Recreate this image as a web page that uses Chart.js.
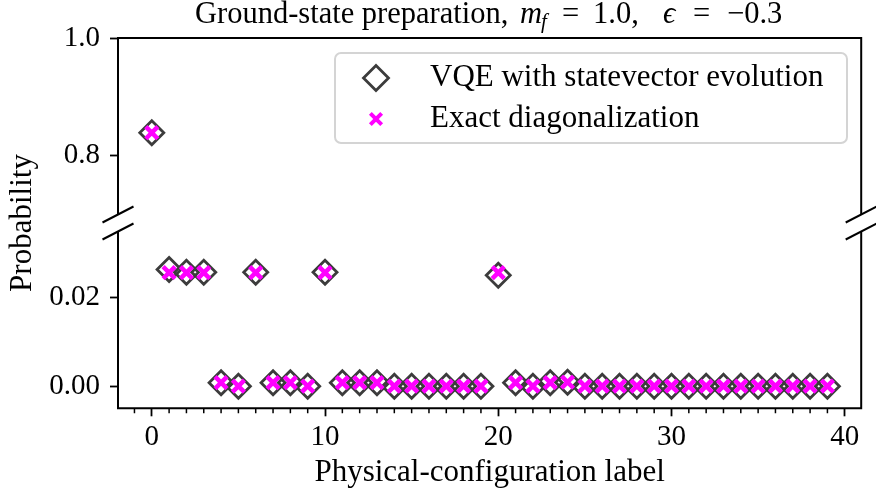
<!DOCTYPE html>
<html>
<head>
<meta charset="utf-8">
<script src="https://cdn.jsdelivr.net/npm/chart.js@4.4.0/dist/chart.umd.min.js"></script>
<style>
  html, body { margin: 0; padding: 0; background: #fff; }
  #wrap { position: relative; width: 876px; height: 494px; }
  #wrap canvas { position: absolute; left: 0; top: 0; }
</style>
</head>
<body>
<div id="wrap">
  <canvas id="topPanel" width="876" height="494"></canvas>
  <canvas id="bottomPanel" width="876" height="494"></canvas>
</div>
<script>
// physical-configuration labels 0..39
const configLabels = [0, 1, 2, 3, 4, 5, 6, 7, 8, 9,
                      10, 11, 12, 13, 14, 15, 16, 17, 18, 19,
                      20, 21, 22, 23, 24, 25, 26, 27, 28, 29,
                      30, 31, 32, 33, 34, 35, 36, 37, 38, 39];

const vqeProb = [0.839, 0.0264, 0.0258, 0.0258, 0.0008, 0.0, 0.0258, 0.0008, 0.0008, 0.0,
                 0.0258, 0.0008, 0.0008, 0.0008, 0.0, 0.0, 0.0, 0.0, 0.0, 0.0,
                 0.0251, 0.0008, 0.0, 0.0008, 0.0009, 0.0, 0.0, 0.0, 0.0, 0.0,
                 0.0, 0.0, 0.0, 0.0, 0.0, 0.0, 0.0, 0.0, 0.0, 0.0];

const exactProb = [0.839, 0.0257, 0.0257, 0.0257, 0.0008, 0.0, 0.0257, 0.0008, 0.0008, 0.0,
                   0.0257, 0.0008, 0.0008, 0.0008, 0.0, 0.0, 0.0, 0.0, 0.0, 0.0,
                   0.0257, 0.0008, 0.0, 0.0008, 0.0009, 0.0, 0.0, 0.0, 0.0, 0.0,
                   0.0, 0.0, 0.0, 0.0, 0.0, 0.0, 0.0, 0.0, 0.0, 0.0];

const seriesNames = ['VQE with statevector evolution', 'Exact diagonalization'];

const xTicks = [0, 10, 20, 30, 40];
const topTicks = [0.8, 1.0];
const topTickLabels = ['0.8', '1.0'];
const bottomTicks = [0.0, 0.02];
const bottomTickLabels = ['0.00', '0.02'];

const SERIF = '"Liberation Serif", "Times New Roman", serif';
const DIAMOND_COLOR = '#3c3c3c';
const CROSS_COLOR = '#ff00ff';

function points(values) {
    return configLabels.map((x, i) => ({ x: x, y: values[i] }));
}

function datasets() {
    return [
        {
            label: seriesNames[0],
            data: points(vqeProb),
            pointStyle: 'rectRot',
            pointRadius: 12,
            pointBorderWidth: 2.8,
            pointBorderColor: DIAMOND_COLOR,
            pointBackgroundColor: 'rgba(0,0,0,0)',
            showLine: false,
            order: 1
        },
        {
            label: seriesNames[1],
            data: points(exactProb),
            pointStyle: 'crossRot',
            pointRadius: 8.5,
            pointBorderWidth: 4.5,
            pointBorderColor: CROSS_COLOR,
            pointBackgroundColor: CROSS_COLOR,
            showLine: false,
            order: 0
        }
    ];
}

function drawBreak(ctx, x, y) {
    ctx.beginPath();
    ctx.moveTo(x - 15.5, y + 8);
    ctx.lineTo(x + 15.5, y - 8);
    ctx.stroke();
}

// spines and the "//" break marks, drawn over the markers like matplotlib does
const spinesPlugin = {
    id: 'spines',
    afterDatasetsDraw(chart, args, opts) {
        const { ctx, chartArea: a } = chart;
        ctx.save();
        ctx.strokeStyle = '#000';
        ctx.lineWidth = 2;
        ctx.lineCap = 'butt';
        ctx.beginPath();
        if (opts.part === 'top') {
            ctx.moveTo(a.left, a.bottom);
            ctx.lineTo(a.left, a.top);
            ctx.lineTo(a.right, a.top);
            ctx.lineTo(a.right, a.bottom);
        } else {
            ctx.moveTo(a.left, a.top);
            ctx.lineTo(a.left, a.bottom);
            ctx.lineTo(a.right, a.bottom);
            ctx.lineTo(a.right, a.top);
        }
        ctx.stroke();
        const yb = opts.part === 'top' ? a.bottom : a.top;
        drawBreak(ctx, a.left, yb);
        drawBreak(ctx, a.right, yb);

        if (opts.part === 'bottom') {
            // minor ticks every 1 on the x axis
            const xs = chart.scales.x;
            ctx.lineWidth = 1.5;
            ctx.beginPath();
            for (let v = Math.ceil(xs.min); v <= Math.floor(xs.max); v++) {
                if (v % 10 === 0) continue;
                const px = xs.getPixelForValue(v);
                ctx.moveTo(px, a.bottom);
                ctx.lineTo(px, a.bottom + 5);
            }
            ctx.stroke();
        }
        ctx.restore();
    }
};

// title with math parts, drawn on the top panel
const titlePlugin = {
    id: 'mathTitle',
    afterDraw(chart) {
        const ctx = chart.ctx;
        const roman = `30.5px ${SERIF}`;
        const ital = `italic 30.5px ${SERIF}`;
        const sub = `italic 21px ${SERIF}`;
        // [text, font, x, baseline shift]
        const pieces = [
            ['Ground-state preparation,', roman, 195, 0],
            ['m', ital, 520, 0],
            ['f', sub, 541, 5],
            ['=', roman, 562, 0],
            ['1.0,', roman, 593, 0],
            ['\u03f5', ital, 663, 0],
            ['=', roman, 693, 0],
            ['\u22120.3', roman, 727, 0]
        ];
        ctx.save();
        ctx.fillStyle = '#000';
        ctx.textBaseline = 'alphabetic';
        ctx.textAlign = 'left';
        pieces.forEach(p => {
            ctx.font = p[1];
            ctx.fillText(p[0], p[2], 23 + p[3]);
        });
        ctx.restore();
    }
};

// legend box in the upper right of the top panel
const legendPlugin = {
    id: 'boxLegend',
    afterDraw(chart) {
        const ctx = chart.ctx;
        const ds = chart.data.datasets;
        const bx = 335, by = 53, bw = 512, bh = 90;
        const rows = [78, 119];
        ctx.save();
        ctx.beginPath();
        ctx.roundRect(bx, by, bw, bh, 6);
        ctx.fillStyle = 'rgba(255,255,255,0.8)';
        ctx.fill();
        ctx.strokeStyle = '#d4d4d4';
        ctx.lineWidth = 2;
        ctx.stroke();

        ctx.lineWidth = ds[0].pointBorderWidth;
        ctx.strokeStyle = DIAMOND_COLOR;
        ctx.fillStyle = 'rgba(0,0,0,0)';
        Chart.helpers.drawPoint(ctx, { pointStyle: ds[0].pointStyle, radius: 12.5, borderWidth: ds[0].pointBorderWidth, rotation: 0 }, 376, rows[0]);
        ctx.lineWidth = 4;
        ctx.strokeStyle = CROSS_COLOR;
        ctx.fillStyle = CROSS_COLOR;
        Chart.helpers.drawPoint(ctx, { pointStyle: ds[1].pointStyle, radius: 8, borderWidth: 4, rotation: 0 }, 376, rows[1]);

        ctx.fillStyle = '#000';
        ctx.font = `31px ${SERIF}`;
        ctx.textBaseline = 'alphabetic';
        ctx.textAlign = 'left';
        ctx.fillText(ds[0].label, 430, 86);
        ctx.fillText(ds[1].label, 430, 127);
        ctx.restore();
    }
};

// shared y-axis label, centred across both panels
const yLabelPlugin = {
    id: 'yLabel',
    afterDraw(chart) {
        const ctx = chart.ctx;
        ctx.save();
        ctx.translate(31, 223);
        ctx.rotate(-Math.PI / 2);
        ctx.font = `31px ${SERIF}`;
        ctx.fillStyle = '#000';
        ctx.textAlign = 'center';
        ctx.textBaseline = 'alphabetic';
        ctx.fillText('Probability', 0, 0);
        ctx.restore();
    }
};

function yAxis(min, max, ticks, tickLabels) {
    return {
        type: 'linear',
        min: min,
        max: max,
        afterBuildTicks: s => { s.ticks = ticks.map(v => ({ value: v })); },
        afterFit: s => { s.width = 118; },
        border: { display: false },
        grid: { drawOnChartArea: false, drawTicks: true, tickLength: 8, tickWidth: 1.8, tickColor: '#000' },
        ticks: {
            callback: (v, i) => tickLabels[i],
            font: { family: SERIF, size: 29 },
            color: '#000',
            padding: 10
        }
    };
}

Chart.defaults.animation = false;

new Chart(document.getElementById('topPanel'), {
    type: 'scatter',
    data: { datasets: datasets() },
    options: {
        responsive: false,
        devicePixelRatio: 1,
        events: [],
        layout: { padding: { left: 0, top: 38, right: 14, bottom: 494 - 214.5 } },
        plugins: {
            legend: { display: false },
            tooltip: { enabled: false },
            spines: { part: 'top' }
        },
        scales: {
            x: { type: 'linear', min: -1.95, max: 40.95, display: false },
            y: yAxis(0.7, 1.0, topTicks, topTickLabels)
        }
    },
    plugins: [spinesPlugin, titlePlugin, legendPlugin]
});

new Chart(document.getElementById('bottomPanel'), {
    type: 'scatter',
    data: { datasets: datasets() },
    options: {
        responsive: false,
        devicePixelRatio: 1,
        events: [],
        layout: { padding: { left: 0, top: 231.5, right: 14, bottom: 0 } },
        plugins: {
            legend: { display: false },
            tooltip: { enabled: false },
            spines: { part: 'bottom' }
        },
        scales: {
            x: {
                type: 'linear',
                min: -1.95,
                max: 40.95,
                afterBuildTicks: s => { s.ticks = xTicks.map(v => ({ value: v })); },
                afterFit: s => { s.height = 494 - 408.3; },
                border: { display: false },
                grid: { drawOnChartArea: false, drawTicks: true, tickLength: 8, tickWidth: 1.8, tickColor: '#000' },
                ticks: {
                    callback: v => String(v),
                    font: { family: SERIF, size: 29 },
                    color: '#000',
                    padding: 4,
                    maxRotation: 0
                },
                title: {
                    display: true,
                    text: 'Physical-configuration label',
                    font: { family: SERIF, size: 31 },
                    color: '#000',
                    padding: { top: 0, bottom: 3 }
                }
            },
            y: yAxis(-0.005, 0.035, bottomTicks, bottomTickLabels)
        }
    },
    plugins: [spinesPlugin, yLabelPlugin]
});
</script>
</body>
</html>
